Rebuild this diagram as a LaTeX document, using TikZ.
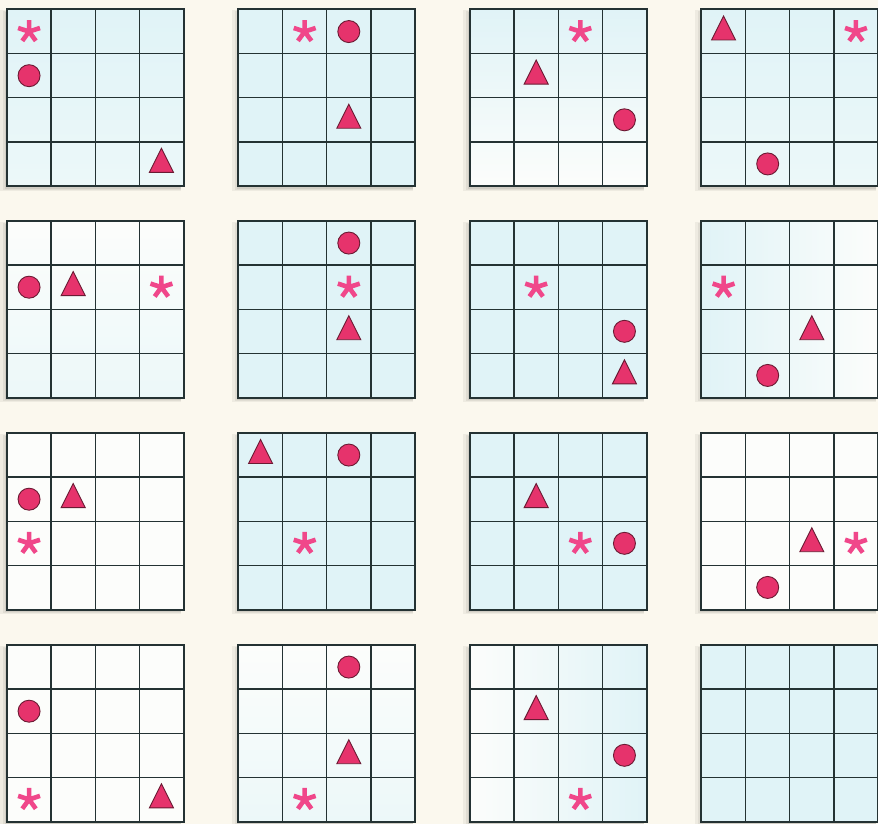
\documentclass[tikz,border=0pt]{standalone}
\usetikzlibrary{shapes.geometric}
\definecolor{bgc}{HTML}{FBF8EE}
\definecolor{cyn}{HTML}{E0F3F7}
\definecolor{lcyn}{HTML}{ECF8F9}
\definecolor{wht}{HTML}{FCFDFB}
\definecolor{mag}{HTML}{E6336C}
\definecolor{pnk}{HTML}{F0478A}
\definecolor{gline}{HTML}{243233}
\definecolor{sym}{HTML}{6A1A33}
\tikzset{
  gridsq/.style={draw=gline, line width=1.4pt, minimum size=176.5pt, inner sep=0pt, shape=rectangle},
  gl/.style={gline, line width=1.4pt},
  circsym/.style={circle, fill=mag, draw=sym, line width=0.9pt, minimum size=22pt, inner sep=0pt},
  trisym/.style={isosceles triangle, shape border rotate=90, isosceles triangle stretches,
     minimum width=24pt, minimum height=24pt, inner sep=0pt, fill=mag, draw=sym, line width=0.9pt},
  astk/.pic={\draw[pnk, line width=4.6pt] (0,0) -- (90:11.5pt) (0,0) -- (162:11.5pt)
      (0,0) -- (234:11.5pt) (0,0) -- (306:11.5pt) (0,0) -- (18:11.5pt);}
}
% name, X, Y, fill options
\newcommand{\gridbox}[4]{%
  \fill[black,opacity=0.05] (#2-7,#3+1) rectangle (#2+174,#3+181);
  \fill[black,opacity=0.06] (#2-4,#3+2) rectangle (#2+174,#3+180);
  \fill[black,opacity=0.07] (#2-2,#3+3) rectangle (#2+174,#3+179);
  \node[gridsq, #4] (#1) at ({#2+88.25},{#3+88.25}) {};
  \foreach \i in {1,2,3}{
    \draw[gl] ({#2+\i*44.125},#3) -- ++(0,176.5);
    \draw[gl] (#2,{#3+\i*44.125}) -- ++(176.5,0);
  }
  \draw[gline, line width=1.4pt] (#1.north west) rectangle (#1.south east);
}
% name, X, Y, row, col
\newcommand{\symC}[5]{\node[circsym] (#1) at ({#2+(#5+0.5)*44.125},{#3+(#4+0.5)*44.125}) {};}
\newcommand{\symT}[5]{\node[trisym] (#1) at ({#2+(#5+0.5)*44.125},{#3+(#4+0.5)*44.125+1}) {};}
\newcommand{\symS}[5]{\pic (#1) at ({#2+(#5+0.5)*44.125},{#3+(#4+0.5)*44.125}) {astk};}
\begin{document}
\begin{tikzpicture}[x=1pt,y=-1pt]
\fill[bgc] (0,0) rectangle (878,824);
\useasboundingbox (0,0) rectangle (878,824);
% row 1
\gridbox{g1}{7}{9.5}{top color=cyn, bottom color=lcyn}
\symS{s1}{7}{9.5}{0}{0}\symC{c1}{7}{9.5}{1}{0}\symT{t1}{7}{9.5}{3}{3}
\gridbox{g2}{238.5}{9.5}{fill=cyn}
\symS{s2}{238.5}{9.5}{0}{1}\symC{c2}{238.5}{9.5}{0}{2}\symT{t2}{238.5}{9.5}{2}{2}
\gridbox{g3}{470}{9.5}{top color=cyn, bottom color=wht}
\symS{s3}{470}{9.5}{0}{2}\symT{t3}{470}{9.5}{1}{1}\symC{c3}{470}{9.5}{2}{3}
\gridbox{g4}{701.5}{9.5}{top color=cyn, bottom color=lcyn}
\symT{t4}{701.5}{9.5}{0}{0}\symS{s4}{701.5}{9.5}{0}{3}\symC{c4}{701.5}{9.5}{3}{1}
% row 2
\gridbox{g5}{7}{221}{top color=wht, bottom color=lcyn}
\symC{c5}{7}{221}{1}{0}\symT{t5}{7}{221}{1}{1}\symS{s5}{7}{221}{1}{3}
\gridbox{g6}{238.5}{221}{fill=cyn}
\symC{c6}{238.5}{221}{0}{2}\symS{s6}{238.5}{221}{1}{2}\symT{t6}{238.5}{221}{2}{2}
\gridbox{g7}{470}{221}{fill=cyn}
\symS{s7}{470}{221}{1}{1}\symC{c7}{470}{221}{2}{3}\symT{t7}{470}{221}{3}{3}
\gridbox{g8}{701.5}{221}{left color=cyn, right color=wht}
\symS{s8}{701.5}{221}{1}{0}\symT{t8}{701.5}{221}{2}{2}\symC{c8}{701.5}{221}{3}{1}
% row 3
\gridbox{g9}{7}{433}{fill=wht}
\symC{c9}{7}{433}{1}{0}\symT{t9}{7}{433}{1}{1}\symS{s9}{7}{433}{2}{0}
\gridbox{g10}{238.5}{433}{fill=cyn}
\symT{t10}{238.5}{433}{0}{0}\symC{c10}{238.5}{433}{0}{2}\symS{s10}{238.5}{433}{2}{1}
\gridbox{g11}{470}{433}{fill=cyn}
\symT{t11}{470}{433}{1}{1}\symS{s11}{470}{433}{2}{2}\symC{c11}{470}{433}{2}{3}
\gridbox{g12}{701.5}{433}{fill=wht}
\symT{t12}{701.5}{433}{2}{2}\symS{s12}{701.5}{433}{2}{3}\symC{c12}{701.5}{433}{3}{1}
% row 4
\gridbox{g13}{7}{645}{fill=wht}
\symC{c13}{7}{645}{1}{0}\symS{s13}{7}{645}{3}{0}\symT{t13}{7}{645}{3}{3}
\gridbox{g14}{238.5}{645}{top color=wht, bottom color=lcyn}
\symC{c14}{238.5}{645}{0}{2}\symT{t14}{238.5}{645}{2}{2}\symS{s14}{238.5}{645}{3}{1}
\gridbox{g15}{470}{645}{left color=wht, right color=cyn}
\symT{t15}{470}{645}{1}{1}\symC{c15}{470}{645}{2}{3}\symS{s15}{470}{645}{3}{2}
\gridbox{g16}{701.5}{645}{fill=cyn}
\end{tikzpicture}
\end{document}
